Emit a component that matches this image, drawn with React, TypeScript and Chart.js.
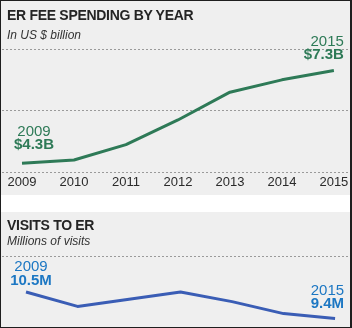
import React, { useEffect, useRef } from "react";
import { Chart, registerables } from "chart.js";

Chart.register(...registerables);

// ---- data ----
const years = [2009, 2010, 2011, 2012, 2013, 2014, 2015];
const spending = [4.3, 4.4, 4.9, 5.7, 6.6, 7.0, 7.3]; // US $ billion
const visits = [10.5, 9.9, 10.2, 10.5, 10.1, 9.6, 9.4]; // millions of visits
const spendingGrid = [4, 6, 8];
const visitsGrid = [12];

const FONT = '"Liberation Sans", Arial, Helvetica, sans-serif';
const GREEN = "#2e7a57";
const BLUE_LINE = "#3a5db5";
const BLUE_TEXT = "#1c77c3";
const GRID = "#9a9a9a";
const PANEL = "#efefef";
const INK = "#242424";

const endLabels = {
  id: "endLabels",
  afterDatasetsDraw(chart: any, _args: any, o: any) {
    const meta = chart.getDatasetMeta(0);
    const data = chart.data.datasets[0].data as { x: number; y: number }[];
    const ctx = chart.ctx as CanvasRenderingContext2D;
    const draw = (i: number, spec: any) => {
      const p = meta.data[i];
      const d = data[i];
      ctx.save();
      ctx.fillStyle = o.color;
      ctx.textAlign = spec.align;
      ctx.textBaseline = "alphabetic";
      const x = p.x + spec.dx;
      ctx.font = `400 ${o.size}px ${FONT}`;
      ctx.fillText(String(d.x), x, p.y + spec.yearDy);
      ctx.font = `700 ${o.size}px ${FONT}`;
      ctx.fillText(o.format(d.y), x, p.y + spec.valueDy);
      ctx.restore();
    };
    draw(0, o.first);
    draw(data.length - 1, o.last);
  },
};

function useChart(ref: React.RefObject<HTMLCanvasElement>, make: (c: HTMLCanvasElement) => Chart) {
  useEffect(() => {
    if (!ref.current) return;
    const ch = make(ref.current);
    return () => ch.destroy();
  }, []);
}

export default function App() {
  const topRef = useRef<HTMLCanvasElement>(null);
  const botRef = useRef<HTMLCanvasElement>(null);

  useEffect(() => {
    document.body.style.margin = "0";
  }, []);

  useChart(topRef, (c) =>
    new Chart(c, {
      type: "line",
      data: {
        datasets: [
          {
            data: years.map((x, i) => ({ x, y: spending[i] })),
            borderColor: GREEN,
            borderWidth: 3,
            pointRadius: 0,
            tension: 0,
            borderJoinStyle: "round",
            borderCapStyle: "butt",
          },
        ],
      },
      options: {
        responsive: false,
        devicePixelRatio: 1,
        animation: false,
        layout: { padding: { top: 49, left: 2, right: 2, bottom: 3 } },
        plugins: {
          legend: { display: false },
          tooltip: { enabled: false },
          endLabels: {
            color: GREEN,
            size: 15,
            format: (v: number) => `$${v.toFixed(1)}B`,
            first: { align: "center", dx: 12, yearDy: -27, valueDy: -14 },
            last: { align: "right", dx: 10, yearDy: -25, valueDy: -12 },
          },
        } as any,
        scales: {
          x: {
            type: "linear",
            min: 2008.615,
            max: 2015.31,
            afterBuildTicks: (axis: any) => {
              axis.ticks = years.map((value) => ({ value }));
            },
            grid: { display: false, drawTicks: false },
            border: { display: false },
            ticks: {
              autoSkip: false,
              maxRotation: 0,
              padding: 2,
              color: "#2a2a2a",
              font: { family: FONT, size: 13 },
              callback: (v: any) => String(v),
            },
          },
          y: {
            min: 4,
            max: 8,
            afterBuildTicks: (axis: any) => {
              axis.ticks = spendingGrid.map((value) => ({ value }));
            },
            ticks: { display: false },
            grid: { color: GRID, lineWidth: 1, drawTicks: false },
            border: { display: false, dash: [2, 2] },
          },
        },
      },
      plugins: [endLabels],
    } as any)
  );

  useChart(botRef, (c) =>
    new Chart(c, {
      type: "line",
      data: {
        datasets: [
          {
            data: years.map((x, i) => ({ x, y: visits[i] })),
            borderColor: BLUE_LINE,
            borderWidth: 3,
            pointRadius: 0,
            tension: 0,
            borderJoinStyle: "round",
          },
        ],
      },
      options: {
        responsive: false,
        devicePixelRatio: 1,
        animation: false,
        layout: { padding: { top: 44, left: 2, right: 2, bottom: 0 } },
        plugins: {
          legend: { display: false },
          tooltip: { enabled: false },
          endLabels: {
            color: BLUE_TEXT,
            size: 15,
            format: (v: number) => `${v.toFixed(1)}M`,
            first: { align: "center", dx: 5, yearDy: -21, valueDy: -7 },
            last: { align: "right", dx: 9, yearDy: -23, valueDy: -10 },
          },
        } as any,
        scales: {
          x: {
            type: "linear",
            display: false,
            min: 2008.534,
            max: 2015.29,
          },
          y: {
            min: 9,
            max: 12,
            afterBuildTicks: (axis: any) => {
              axis.ticks = visitsGrid.map((value) => ({ value }));
            },
            ticks: { display: false },
            grid: { color: GRID, lineWidth: 1, drawTicks: false },
            border: { display: false, dash: [2, 2] },
          },
        },
      },
      plugins: [endLabels],
    } as any)
  );

  const title: React.CSSProperties = {
    position: "absolute",
    left: 7,
    margin: 0,
    fontFamily: FONT,
    fontWeight: 700,
    fontSize: 14,
    lineHeight: "14px",
    letterSpacing: "-0.3px",
    color: INK,
    whiteSpace: "nowrap",
  };
  const sub: React.CSSProperties = {
    position: "absolute",
    left: 7,
    margin: 0,
    fontFamily: FONT,
    fontStyle: "italic",
    fontSize: 12,
    lineHeight: "12px",
    color: "#333",
    whiteSpace: "nowrap",
  };

  return (
    <div style={{ position: "relative", width: 352, height: 328, background: "#fff", overflow: "hidden" }}>
      <div style={{ position: "absolute", left: 0, top: 0, width: 352, height: 195, background: PANEL }}>
        <canvas ref={topRef} width={352} height={195} style={{ position: "absolute", left: 0, top: 0, display: "block" }} />
        <div style={{ ...title, top: 8 }}>ER FEE SPENDING BY YEAR</div>
        <div style={{ ...sub, top: 29 }}>In US $ billion</div>
      </div>
      <div style={{ position: "absolute", left: 0, top: 212, width: 352, height: 116, background: PANEL }}>
        <canvas ref={botRef} width={352} height={116} style={{ position: "absolute", left: 0, top: 0, display: "block" }} />
        <div style={{ ...title, top: 6 }}>VISITS TO ER</div>
        <div style={{ ...sub, top: 23 }}>Millions of visits</div>
      </div>
      <div
        style={{
          position: "absolute",
          left: 0,
          top: 0,
          width: 352,
          height: 328,
          boxSizing: "border-box",
          borderTop: "1px solid #1e1e1e",
          borderLeft: "1px solid #1e1e1e",
          borderBottom: "1px solid #1e1e1e",
          borderRight: "2px solid #1e1e1e",
          pointerEvents: "none",
        }}
      />
    </div>
  );
}
